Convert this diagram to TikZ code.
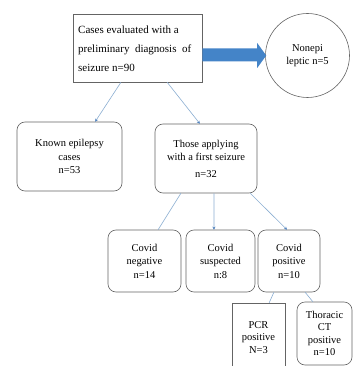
\documentclass[tikz,border=0pt]{standalone}
\usepackage{fontspec}
\setmainfont{Liberation Serif}
\usetikzlibrary{calc,arrows.meta}
\definecolor{boxline}{RGB}{100,100,100}
\definecolor{conn}{RGB}{140,175,210}
\definecolor{connhead}{RGB}{80,130,190}
\definecolor{bigblue}{RGB}{68,132,200}
\tikzset{
  box/.style={draw=boxline,line width=0.6pt,rectangle,inner sep=0pt,align=center,
    font=\fontsize{10.5}{13.5}\selectfont},
  rbox/.style={box,rounded corners=8pt},
  conline/.style={draw=conn,line width=0.6pt},
  conarrow/.style={conline,-{Stealth[length=3pt,width=3pt,color=connhead]}},
}
\begin{document}
\begin{tikzpicture}[x=1pt,y=-1pt]
\useasboundingbox (0,0) rectangle (353,366);
\clip (0,0) rectangle (353,366);
\fill[white] (0,0) rectangle (353,366);
% top box
\node[box,minimum width=129pt,minimum height=68pt] (top) at (137.5,48) {};
\node[anchor=north west,inner sep=0pt,align=left,font=\fontsize{11}{19}\selectfont] at (78,26)
  {Cases evaluated with a\\preliminary\ \ diagnosis\ \ of\\seizure n=90};
% circle
\node[draw=boxline,line width=0.6pt,circle,minimum size=84pt,inner sep=0pt,align=center,
  font=\fontsize{10.5}{13.5}\selectfont] (circ) at (307.5,55.5) {Nonepi\\leptic n=5};
% big arrow
\fill[bigblue] ($(top.east |- circ.west)+(0,-7)$) -- ($(circ.west)+(-8,-7)$)
  -- ($(circ.west)+(-8,-12.5)$) -- ($(circ.west)+(1,0)$) -- ($(circ.west)+(-8,12.5)$)
  -- ($(circ.west)+(-8,6)$) -- ($(top.east |- circ.west)+(0,6)$) -- cycle;
% second level
\node[rbox,minimum width=105pt,minimum height=69pt] (known) at (69.5,156.5)
  {Known epilepsy\\cases\\n=53};
\node[rbox,minimum width=102pt,minimum height=69pt] (first) at (206,158.5)
  {Those applying\\with a first seizure\\[3pt]n=32};
% third level
\node[rbox,minimum width=73pt,minimum height=62pt] (neg) at (144.5,261)
  {Covid\\negative\\n=14};
\node[rbox,minimum width=69pt,minimum height=62pt] (sus) at (220.5,261)
  {Covid\\suspected\\n:8};
\node[rbox,minimum width=62pt,minimum height=62pt] (pos) at (289,261)
  {Covid\\positive\\n=10};
% fourth level
\node[box,minimum width=53pt,minimum height=69pt,font=\fontsize{10.5}{12.5}\selectfont] (pcr) at (258.5,337.5)
  {PCR\\positive\\N=3};
\node[rbox,minimum width=55pt,minimum height=63pt,font=\fontsize{10.5}{12.5}\selectfont] (ct) at (324.5,333.5)
  {Thoracic\\CT\\positive\\n=10};
% connectors
\draw[conarrow] ($(top.south west)!0.372!(top.south east)$) -- ($(known.north west)!0.743!(known.north east)$);
\draw[conarrow] ($(top.south west)!0.729!(top.south east)$) -- ($(first.north west)!0.44!(first.north east)$);
\draw[conline] ($(first.south west)!0.255!(first.south east)$) -- ($(neg.north west)!0.685!(neg.north east)$);
\draw[conarrow] ($(first.south west)!0.578!(first.south east)$) -- ($(sus.north west)!0.406!(sus.north east)$);
\draw[conarrow] ($(first.south west)!0.931!(first.south east)$) -- ($(pos.north west)!0.468!(pos.north east)$);
\draw[conline] ($(pos.south west)!0.258!(pos.south east)$) -- ($(pcr.north west)!0.70!(pcr.north east)$);
\draw[conline] ($(pos.south west)!0.758!(pos.south east)$) -- ($(ct.north west)!0.29!(ct.north east)$);
\end{tikzpicture}
\end{document}
